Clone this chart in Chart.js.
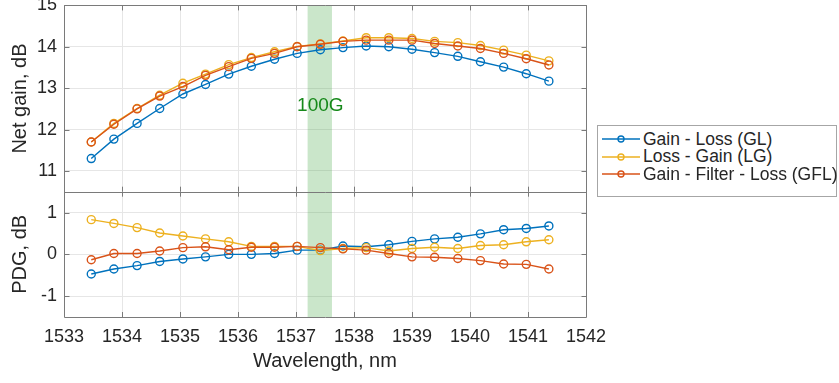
<!DOCTYPE html>
<html>
<head>
<meta charset="utf-8">
<script src="https://cdn.jsdelivr.net/npm/chart.js@4.4.1/dist/chart.umd.min.js"></script>
<style>
  html, body { margin: 0; padding: 0; background: #fff; }
  #wrap { position: relative; width: 839px; height: 383px; }
  #legend {
    position: absolute; left: 597px; top: 125px; width: 240px; height: 72px;
    box-sizing: border-box; border: 1px solid #a6a6a6; background: #fff;
    font-family: "Liberation Sans", Arial, sans-serif; font-size: 17.5px; color: #262626;
  }
  .item { position: absolute; left: 3px; height: 18px; display: flex; align-items: center; white-space: nowrap; }
  .item svg { margin-right: 2px; }
</style>
</head>
<body>
<div id="wrap">
  <canvas id="myChart" width="839" height="383"></canvas>
  <div id="legend"></div>
</div>
<script>
const wavelength = [1533.47, 1533.86, 1534.26, 1534.65, 1535.05, 1535.44, 1535.84, 1536.23, 1536.63, 1537.02, 1537.42,
                    1537.81, 1538.21, 1538.60, 1539.00, 1539.39, 1539.79, 1540.18, 1540.58, 1540.97, 1541.36];

const gainGL  = [11.30, 11.77, 12.15, 12.51, 12.86, 13.09, 13.34, 13.53, 13.70, 13.84, 13.93,
                 13.98, 14.02, 14.00, 13.94, 13.86, 13.77, 13.64, 13.51, 13.35, 13.17];
const gainLG  = [11.70, 12.15, 12.51, 12.83, 13.12, 13.34, 13.57, 13.74, 13.88, 14.01, 14.07,
                 14.14, 14.22, 14.22, 14.20, 14.13, 14.10, 14.03, 13.92, 13.80, 13.66];
const gainGFL = [11.70, 12.13, 12.50, 12.81, 13.04, 13.31, 13.52, 13.72, 13.84, 14.00, 14.06,
                 14.13, 14.16, 14.16, 14.16, 14.08, 14.02, 13.96, 13.84, 13.71, 13.56];

const pdgGL  = [-0.47, -0.35, -0.27, -0.17, -0.11, -0.06, 0.00, 0.00, 0.02, 0.10, 0.10,
                0.20, 0.18, 0.23, 0.31, 0.37, 0.41, 0.49, 0.59, 0.62, 0.68];
const pdgLG  = [0.83, 0.74, 0.64, 0.51, 0.44, 0.37, 0.30, 0.19, 0.19, 0.19, 0.09,
                0.14, 0.16, 0.08, 0.14, 0.17, 0.14, 0.21, 0.23, 0.30, 0.35];
const pdgGFL = [-0.13, 0.02, 0.02, 0.08, 0.16, 0.18, 0.11, 0.17, 0.17, 0.19, 0.16,
                0.13, 0.10, 0.02, -0.06, -0.07, -0.10, -0.15, -0.23, -0.24, -0.35];

const seriesNames = ['Gain - Loss (GL)', 'Loss - Gain (LG)', 'Gain - Filter - Loss (GFL)'];
const seriesColors = ['#0072BD', '#EDB120', '#D95319'];

const xTicks = [1533, 1534, 1535, 1536, 1537, 1538, 1539, 1540, 1541, 1542];
const gainTicks = [11, 12, 13, 14, 15];
const pdgTicks = [-1, 0, 1];

const bandRange = [1537.2, 1537.62];
const bandLabel = '100G';
const bandLabelAt = [1537.42, 12.58];

const FONT = '"Liberation Sans", Arial, sans-serif';
const TEXT = '#262626';
const EDGE = '#7a7a7a';

function pairs(ys) {
    return ys.map((y, i) => ({ x: wavelength[i], y: y }));
}

function makeSet(i, ys, axis) {
    return {
        label: seriesNames[i],
        data: pairs(ys),
        yAxisID: axis,
        borderColor: seriesColors[i],
        backgroundColor: 'rgba(0,0,0,0)',
        borderWidth: 1.4,
        pointRadius: 4,
        pointBorderWidth: 1.4,
        pointBackgroundColor: 'rgba(0,0,0,0)',
        tension: 0,
        order: 3 - i
    };
}

const datasets = [
    makeSet(0, gainGL, 'yGain'), makeSet(1, gainLG, 'yGain'), makeSet(2, gainGFL, 'yGain'),
    makeSet(0, pdgGL, 'yPdg'), makeSet(1, pdgLG, 'yPdg'), makeSet(2, pdgGFL, 'yPdg')
];

// green band, label, axes boxes and inward ticks
const panelPlugin = {
    id: 'panels',
    beforeDatasetsDraw(chart) {
        const { ctx, chartArea, scales } = chart;
        const x0 = scales.x.getPixelForValue(bandRange[0]);
        const x1 = scales.x.getPixelForValue(bandRange[1]);
        ctx.save();
        ctx.fillStyle = 'rgba(80,172,80,0.3)';
        ctx.fillRect(x0, chartArea.top, x1 - x0, chartArea.bottom - chartArea.top);
        ctx.fillStyle = '#16891a';
        ctx.font = '19px ' + FONT;
        ctx.textAlign = 'center';
        ctx.textBaseline = 'middle';
        ctx.fillText(bandLabel, scales.x.getPixelForValue(bandLabelAt[0]), scales.yGain.getPixelForValue(bandLabelAt[1]));
        ctx.restore();
    },
    afterDraw(chart) {
        const { ctx, chartArea, scales } = chart;
        const L = Math.round(chartArea.left) + 0.5, R = Math.round(chartArea.right) + 0.5;
        const tl = 5;
        const edges = [scales.yGain.top, scales.yGain.bottom, scales.yPdg.bottom].map(v => Math.round(v) + 0.5);
        ctx.save();
        ctx.strokeStyle = EDGE;
        ctx.lineWidth = 1;
        ctx.beginPath();
        // outer box and the line between the two panels
        edges.forEach(y => { ctx.moveTo(L, y); ctx.lineTo(R, y); });
        ctx.moveTo(L, edges[0]); ctx.lineTo(L, edges[2]);
        ctx.moveTo(R, edges[0]); ctx.lineTo(R, edges[2]);
        [scales.yGain, scales.yPdg].forEach(s => {
            s.ticks.forEach(t => {
                const py = Math.round(s.getPixelForValue(t.value)) + 0.5;
                ctx.moveTo(L, py); ctx.lineTo(L + tl, py);
                ctx.moveTo(R, py); ctx.lineTo(R - tl, py);
            });
            scales.x.ticks.forEach(t => {
                const px = Math.round(scales.x.getPixelForValue(t.value)) + 0.5;
                ctx.moveTo(px, s.top); ctx.lineTo(px, s.top + tl);
                ctx.moveTo(px, s.bottom); ctx.lineTo(px, s.bottom - tl);
            });
        });
        ctx.stroke();
        ctx.restore();
    }
};

const gridColor = '#e6e6e6';

function noOverflow(s) {
    s.paddingTop = 0;
    s.paddingBottom = 0;
}

new Chart(document.getElementById('myChart'), {
    type: 'line',
    data: { datasets: datasets },
    options: {
        responsive: false,
        animation: false,
        layout: { padding: { left: 0, right: 253, top: 5, bottom: 10 } },
        plugins: { legend: { display: false }, tooltip: { enabled: false } },
        scales: {
            x: {
                type: 'linear',
                min: 1533, max: 1542,
                afterBuildTicks: s => { s.ticks = xTicks.map(v => ({ value: v })); },
                afterFit: s => { s.height = 56; s.paddingLeft = 0; s.paddingRight = 0; },
                ticks: { color: TEXT, font: { family: FONT, size: 18 }, padding: 9, callback: v => String(v) },
                grid: { color: gridColor, drawTicks: false },
                border: { display: false },
                title: { display: true, text: 'Wavelength, nm', color: TEXT, font: { family: FONT, size: 20 }, padding: { top: 2, bottom: 0 } }
            },
            yPdg: {
                type: 'linear',
                position: 'left',
                stack: 'panels',
                stackWeight: 125.6,
                min: -1.5, max: 1.5,
                afterBuildTicks: s => { s.ticks = pdgTicks.map(v => ({ value: v })); },
                afterFit: s => { s.width = 64; noOverflow(s); },
                ticks: { color: TEXT, font: { family: FONT, size: 18 }, padding: 7, callback: v => String(v) },
                grid: { color: gridColor, drawTicks: false },
                border: { display: false },
                title: { display: true, text: 'PDG, dB', color: TEXT, font: { family: FONT, size: 20 }, padding: { top: 8, bottom: 0 } }
            },
            yGain: {
                type: 'linear',
                position: 'left',
                stack: 'panels',
                stackWeight: 186.7,
                min: 10.5, max: 15,
                afterBuildTicks: s => { s.ticks = gainTicks.map(v => ({ value: v })); },
                afterFit: s => { s.width = 64; noOverflow(s); },
                ticks: { color: TEXT, font: { family: FONT, size: 18 }, padding: 7, callback: v => String(v) },
                grid: { color: gridColor, drawTicks: false },
                border: { display: false },
                title: { display: true, text: 'Net gain, dB', color: TEXT, font: { family: FONT, size: 20 }, padding: { top: 8, bottom: 0 } }
            }
        }
    },
    plugins: [panelPlugin]
});

// legend box
const legend = document.getElementById('legend');
const rowTops = [4, 21.5, 39];
seriesNames.forEach((name, i) => {
    const row = document.createElement('div');
    row.className = 'item';
    row.style.top = rowTops[i] + 'px';
    row.innerHTML =
        '<svg width="40" height="12"><line x1="1" y1="6" x2="39" y2="6" stroke="' + seriesColors[i] + '" stroke-width="1.4"/>' +
        '<circle cx="20" cy="6" r="3" fill="none" stroke="' + seriesColors[i] + '" stroke-width="1.4"/></svg>' +
        '<span>' + name + '</span>';
    legend.appendChild(row);
});
</script>
</body>
</html>
